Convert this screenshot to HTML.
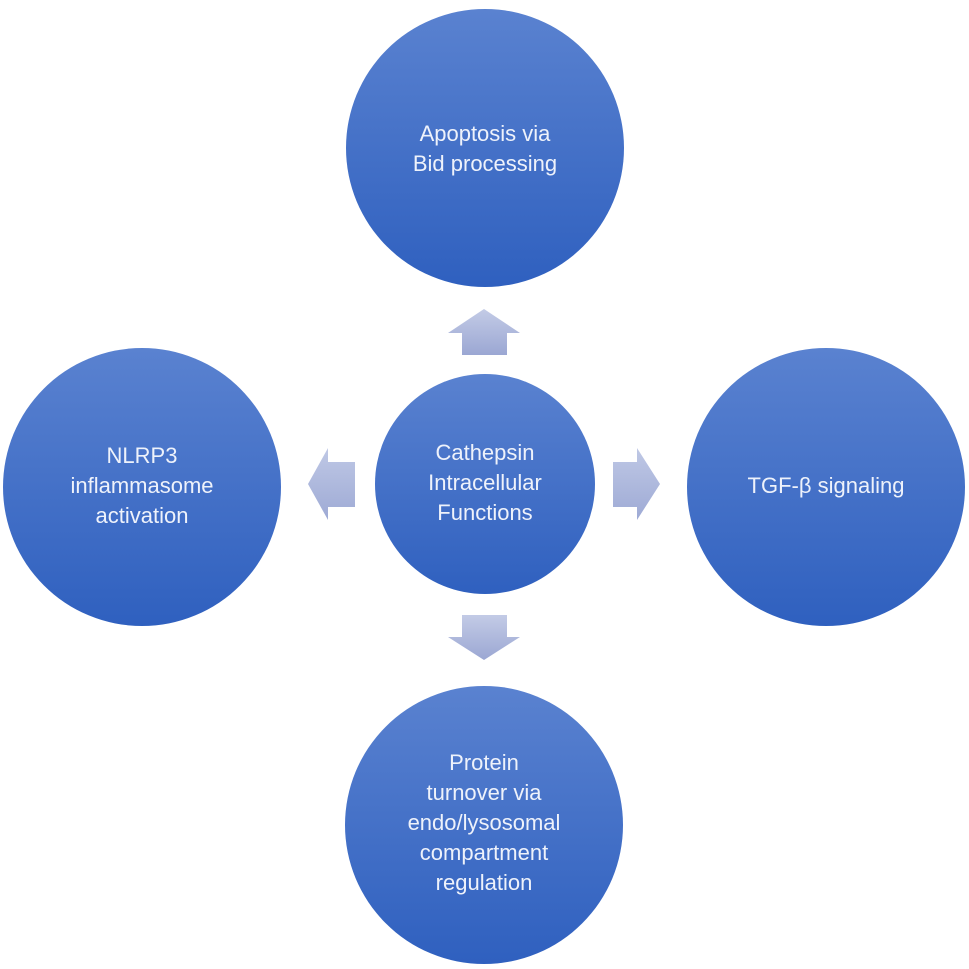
<!DOCTYPE html>
<html><head><meta charset="utf-8"><style>
html,body{margin:0;padding:0;background:#fff;}
svg{display:block}
text{font-family:"Liberation Sans",sans-serif;font-size:22px;fill:#eef2fb;text-anchor:middle}
</style></head><body>
<svg width="969" height="969" viewBox="0 0 969 969" xmlns="http://www.w3.org/2000/svg">
<defs>
<linearGradient id="g" x1="0" y1="0" x2="0" y2="1">
<stop offset="0" stop-color="#5a82d0"/><stop offset="1" stop-color="#2f60bf"/></linearGradient>
<linearGradient id="av" x1="0" y1="0" x2="0" y2="1">
<stop offset="0" stop-color="#c3cbe6"/><stop offset="1" stop-color="#9ba7d3"/></linearGradient>
<linearGradient id="ah" x1="0" y1="0" x2="0" y2="1">
<stop offset="0" stop-color="#bfc8e5"/><stop offset="1" stop-color="#9eaad5"/></linearGradient>
</defs>
<circle cx="485" cy="148" r="139" fill="url(#g)"/>
<circle cx="142" cy="487" r="139" fill="url(#g)"/>
<circle cx="826" cy="487" r="139" fill="url(#g)"/>
<circle cx="484" cy="825" r="139" fill="url(#g)"/>
<circle cx="485" cy="484" r="110" fill="url(#g)"/>
<polygon points="484,309 520,333 507,333 507,355 462,355 462,333 448,333" fill="url(#av)"/>
<polygon points="484,660 520,637 507,637 507,615 462,615 462,637 448,637" fill="url(#av)"/>
<polygon points="308,484 328,448 328,462 355,462 355,507 328,507 328,520" fill="url(#ah)"/>
<polygon points="660,484 637,448 637,462 613,462 613,507 637,507 637,520" fill="url(#ah)"/>
<text x="485" y="141">Apoptosis via</text>
<text x="485" y="171">Bid processing</text>
<text x="485" y="460">Cathepsin</text>
<text x="485" y="490">Intracellular</text>
<text x="485" y="520">Functions</text>
<text x="142" y="463">NLRP3</text>
<text x="142" y="493">inflammasome</text>
<text x="142" y="523">activation</text>
<text x="826" y="493">TGF-β signaling</text>
<text x="484" y="770">Protein</text>
<text x="484" y="800">turnover via</text>
<text x="484" y="830">endo/lysosomal</text>
<text x="484" y="860">compartment</text>
<text x="484" y="890">regulation</text>
</svg>
</body></html>
